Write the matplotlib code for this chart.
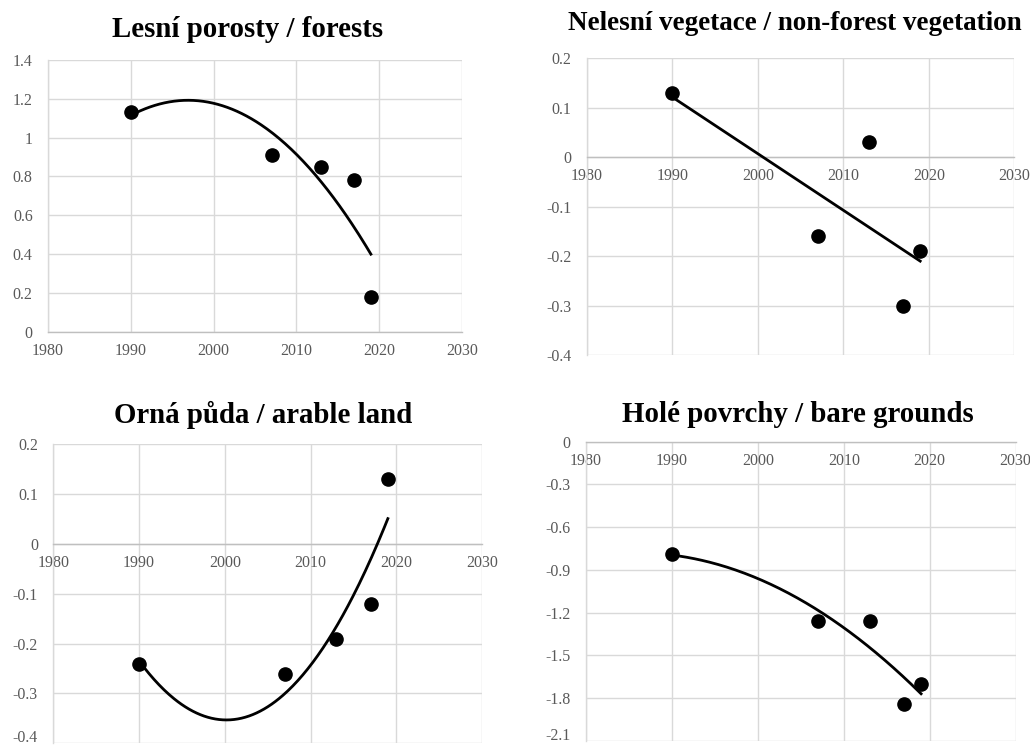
import numpy as np
import matplotlib
matplotlib.use("Agg")
import matplotlib.pyplot as plt
from matplotlib.transforms import ScaledTranslation

plt.rcParams['font.family'] = ['Liberation Serif', 'DejaVu Serif']

years = [1990, 2007, 2013, 2017, 2019]

forests = [1.13, 0.91, 0.85, 0.78, 0.18]
non_forest = [0.13, -0.16, 0.03, -0.30, -0.19]
arable = [-0.24, -0.26, -0.19, -0.12, 0.13]
bare = [-0.79, -1.26, -1.26, -1.84, -1.70]

titles = [
    "Lesní porosty / forests",
    "Nelesní vegetace / non-forest vegetation",
    "Orná půda / arable land",
    "Holé povrchy / bare grounds",
]
x_ticks = [1980, 1990, 2000, 2010, 2020, 2030]
y_ticks = [
    [0, 0.2, 0.4, 0.6, 0.8, 1, 1.2, 1.4],
    [-0.4, -0.3, -0.2, -0.1, 0, 0.1, 0.2],
    [-0.4, -0.3, -0.2, -0.1, 0, 0.1, 0.2],
    [-2.1, -1.8, -1.5, -1.2, -0.9, -0.6, -0.3, 0],
]
series = [forests, non_forest, arable, bare]
trend_degree = [2, 1, 2, 2]

# axes rectangles in figure fractions: left, bottom, width, height
rects = [
    [0.0466, 0.5553, 0.4019, 0.3643],
    [0.5697, 0.5241, 0.4150, 0.3977],
    [0.0517, 0.0036, 0.4165, 0.4008],
    [0.5690, 0.0071, 0.4170, 0.4008],
]
title_pos = [(0.240, 0.961), (0.772, 0.968), (0.255, 0.444), (0.775, 0.444)]
title_size = [20.8, 19.5, 20.8, 20.8]

fig = plt.figure(figsize=(10.30, 7.46), dpi=100)
grid_c = '#d9d9d9'
tick_c = '#595959'

for i in range(4):
    ax = fig.add_axes(rects[i])
    yt = y_ticks[i]
    ax.set_xlim(1980, 2030)
    ax.set_ylim(min(yt), max(yt))
    ax.set_xticks(x_ticks)
    ax.set_yticks(yt)
    ax.set_yticklabels([f"{v:g}" for v in yt])
    ax.grid(True, color=grid_c, linewidth=1.0)
    ax.set_axisbelow(True)
    for s in ['top', 'right']:
        ax.spines[s].set_visible(False)
    ax.spines['left'].set_color(grid_c)
    ax.spines['left'].set_linewidth(1.0)
    ax.spines['bottom'].set_position(('data', 0))
    ax.spines['bottom'].set_color('#bfbfbf')
    ax.spines['bottom'].set_linewidth(1.0)
    ax.tick_params(axis='both', length=0, labelsize=11.5, labelcolor=tick_c)
    ax.tick_params(axis='y', pad=11)
    ax.tick_params(axis='x', pad=8)
    for lab in ax.get_xticklabels():
        lab.set_zorder(5)
    # keep the lowest y label inside the figure edge
    if rects[i][1] < 0.05:
        low = ax.get_yticklabels()[0]
        low.set_transform(low.get_transform() + ScaledTranslation(0, 5 / 72, fig.dpi_scale_trans))

    x = np.array(years, dtype=float)
    y = np.array(series[i], dtype=float)
    coef = np.polyfit(x - 2000, y, trend_degree[i])
    xs = np.linspace(x.min(), x.max(), 200)
    ax.plot(xs, np.polyval(coef, xs - 2000), color='black', linewidth=2.0, zorder=3)
    ax.plot(x, y, 'o', color='black', markersize=9.5, zorder=4, clip_on=False)

    fig.text(title_pos[i][0], title_pos[i][1], titles[i], ha='center', va='center',
             fontsize=title_size[i], fontweight='bold', color='black')

fig.savefig("out.png", dpi=100)
